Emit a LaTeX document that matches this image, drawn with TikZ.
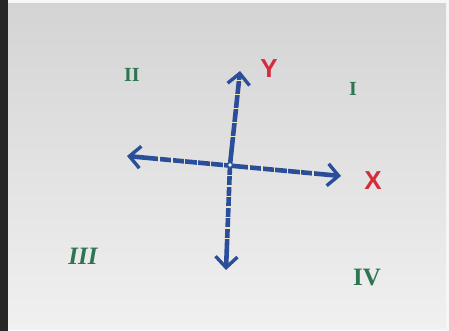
\documentclass[tikz,border=0pt]{standalone}
\usepackage{fontspec}
\setmainfont{Liberation Serif}
\newfontfamily\handfont{Liberation Sans}
\usetikzlibrary{arrows.meta,calc}
\definecolor{paperA}{HTML}{D4D4D4}
\definecolor{paperB}{HTML}{F0F0F0}
\definecolor{axisblue}{HTML}{2B4E9B}
\definecolor{quadgreen}{HTML}{2E7552}
\definecolor{labelred}{HTML}{D42C3C}
\definecolor{tickcol}{HTML}{E9E4C4}
\tikzset{
  barb/.tip={Straight Barb[length=11pt,width=22pt,line width=3.4pt]},
  axisline/.style={draw=axisblue,line width=4.6pt,line cap=round,barb-barb},
  axisone/.style={draw=axisblue,line width=4.6pt,line cap=round,-barb},
  tickmark/.style={draw=tickcol,line width=1.4pt},
  quad/.style={text=quadgreen,font=\bfseries},
  axlabel/.style={text=labelred,font=\handfont\bfseries}
}
\begin{document}
\begin{tikzpicture}[x=1pt,y=-1pt]
\useasboundingbox (0,0) rectangle (449,331);
% background
\fill[white!97!black] (0,0) rectangle (449,331);
\shade[top color=paperA,bottom color=paperB] (8,4) rectangle (446,328);
\fill[black!85] (0,0) rectangle (8,331);
% axes points
\coordinate (L) at (127,156);
\coordinate (R) at (341,176);
\coordinate (T) at (240,71);
\coordinate (B) at (226,270);
\coordinate (O) at (230,165);
\draw[axisline] (L) -- (R);
\draw[axisone] (O) -- (T);
\draw[axisone] (O) -- (B);
% ticks on x axis
\foreach \t in {0.15,0.21,0.27,0.33,0.39,0.45,0.57,0.63,0.69,0.75,0.81,0.87}{
  \draw[tickmark] ($(L)!\t!(R)$) ++(0,-3) -- ++(0,6);
}
% ticks on y axis
\foreach \t in {0.3,0.45,0.6,0.75,0.9}{
  \draw[tickmark] ($(O)!\t!(T)$) ++(-3.5,0) -- ++(7,0);
}
\foreach \t in {0.1,0.2,0.3,0.4,0.5,0.6,0.7}{
  \draw[tickmark] ($(O)!\t!(B)$) ++(-3.5,0) -- ++(7,0);
}
\node[circle,fill=white,draw=axisblue,line width=1pt,inner sep=1.6pt] (orig) at (O) {};
% labels
\node[axlabel,font=\handfont\bfseries\fontsize{26}{26}\selectfont] (ylab) at (269,69) {Y};
\node[axlabel,font=\handfont\bfseries\fontsize{26}{26}\selectfont] (xlab) at (373,181) {X};
\node[quad,font=\bfseries\fontsize{20}{20}\selectfont] (q2) at (132,75) {II};
\node[quad,font=\bfseries\fontsize{20}{20}\selectfont] (q1) at (353,89) {I};
\node[quad,font=\bfseries\itshape\fontsize{25}{25}\selectfont] (q3) at (83,256) {III};
\node[quad,font=\bfseries\fontsize{25}{25}\selectfont] (q4) at (367,278) {IV};
\end{tikzpicture}
\end{document}
